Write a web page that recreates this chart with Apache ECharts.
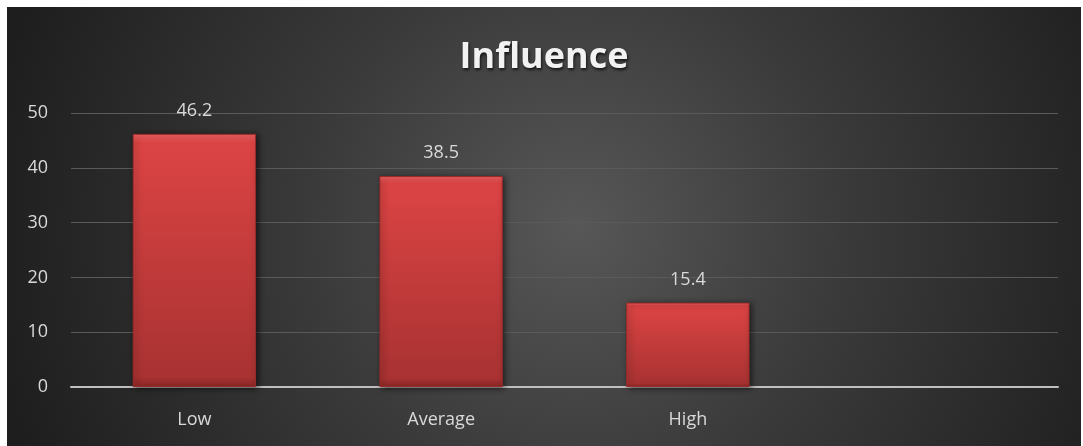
<!DOCTYPE html>
<html><head><meta charset="utf-8">
<script src="https://cdn.jsdelivr.net/npm/echarts@6/dist/echarts.min.js"></script>
<style>html,body{margin:0;padding:0;background:#fff;width:1083px;height:446px;overflow:hidden}
#c{position:absolute;left:7px;top:7px;width:1074px;height:439px}</style>
</head><body><div id="c"></div>
<script>
const categories = ['Low', 'Average', 'High', ''];
const values = [46.2, 38.5, 15.4, null];
const yTicks = [0, 10, 20, 30, 40, 50];
const titleText = 'Influence';

const chart = echarts.init(document.getElementById('c'));
const font = '"Open Sans", sans-serif';
chart.setOption({
  backgroundColor: {type:'radial', x:0.53, y:0.5, r:1.35, colorStops:[{offset:0,color:'#575757'},{offset:0.45,color:'#3a3a3a'},{offset:1,color:'#1e1e1e'}]},
  title: {text: titleText, left: 'center', top: 28,
    textStyle:{color:'#f2f2f2', fontSize:36, fontWeight:'bold', fontFamily:font,
      textShadowColor:'rgba(0,0,0,0.7)', textShadowBlur:3, textShadowOffsetX:1, textShadowOffsetY:2}},
  grid: {left:64, right:23, top:106, bottom:59},
  xAxis: {type:'category', data: categories,
    axisLine:{lineStyle:{color:'#bfbfbf', width:2}}, axisTick:{show:false},
    axisLabel:{color:'#d9d9d9', fontSize:18, fontFamily:font, margin:24}},
  yAxis: {type:'value', min:yTicks[0], max:yTicks[yTicks.length-1], interval:10,
    axisLine:{show:false}, axisTick:{show:false},
    axisLabel:{color:'#d9d9d9', fontSize:18, fontFamily:font, margin:23},
    splitLine:{lineStyle:{color:'#5a5a5a', width:1}}},
  series: [{type:'bar', data: values, barWidth:'50%',
    itemStyle:{color:{type:'linear', x:0,y:0,x2:0,y2:1, colorStops:[{offset:0,color:'#f26262'},{offset:0.035,color:'#dc4444'},{offset:0.96,color:'#a93232'},{offset:1,color:'#8f2828'}]},
      borderColor:'#9a2a2a', borderWidth:1,
      shadowColor:'rgba(0,0,0,0.6)', shadowBlur:6, shadowOffsetX:2, shadowOffsetY:1},
    label:{show:true, position:'top', distance:14, color:'#d9d9d9', fontSize:18, fontFamily:font}}]
});
</script></body></html>
